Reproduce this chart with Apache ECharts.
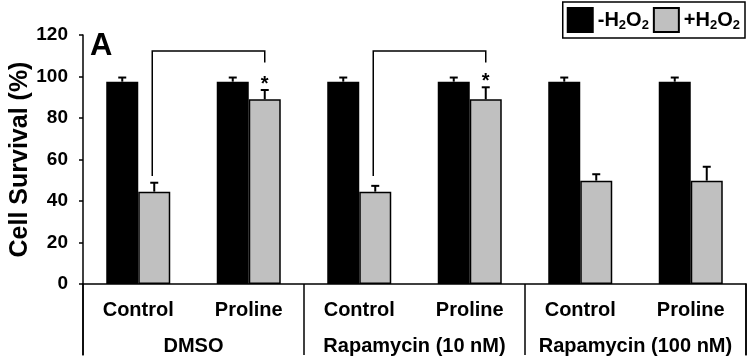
<!DOCTYPE html>
<html>
<head>
<meta charset="utf-8">
<script src="https://cdn.jsdelivr.net/npm/echarts@6/dist/echarts.min.js"></script>
<style>
  html, body { margin: 0; padding: 0; background: #fff; }
  #chart { width: 753px; height: 364px; }
</style>
</head>
<body>
<div id="chart"></div>
<script>
// data
var conditions = ['Control', 'Proline', 'Control', 'Proline', 'Control', 'Proline'];
var groups = ['DMSO', 'Rapamycin (10 nM)', 'Rapamycin (100 nM)'];
var noH2O2 = [97.5, 97.5, 97.5, 97.5, 97.5, 97.5];
var noH2O2Err = [2, 2, 2, 2, 2, 2];
var withH2O2 = [44.5, 89, 44.5, 89, 49.8, 49.8];
var withH2O2Err = [4.3, 4.5, 2.8, 5.8, 3.1, 6.7];
var stars = ['', '*', '', '*', '', ''];
// brackets: from gray bar -> to gray bar
var bracketFrom = [0, 2];
var bracketTo = [1, 3];
var bracketTop = 112.3;
var bracketLeftFoot = 52;
var bracketRightFoot = 106.7;

var FONT = 'Liberation Sans, Arial, sans-serif';
var BAR_W = 32;

var chartDom = document.getElementById('chart');
var myChart = echarts.init(chartDom);

function errRender(offset, vals, errs) {
    return function (params, api) {
        var i = params.dataIndex;
        var top = api.coord([i, vals[i] + errs[i]]);
        var base = api.coord([i, vals[i]]);
        var x = top[0] + offset;
        var children = [
            { type: 'line', shape: { x1: x, y1: base[1], x2: x, y2: top[1] }, style: { stroke: '#000', lineWidth: 2 } },
            { type: 'line', shape: { x1: x - 4, y1: top[1], x2: x + 4, y2: top[1] }, style: { stroke: '#000', lineWidth: 2 } }
        ];
        if (offset > 0 && stars[i]) {
            children.push({
                type: 'text',
                style: { text: stars[i], x: x, y: top[1] - 6, align: 'center', verticalAlign: 'middle', font: 'bold 20px ' + FONT, fill: '#000' }
            });
        }
        return { type: 'group', children: children };
    };
}

var sepLine = { color: '#000', width: 1.5 };

var option = {
    animation: false,
    title: {
        text: 'A', left: 85, top: 26,
        textStyle: { fontFamily: FONT, fontWeight: 'bold', fontSize: 31, color: '#000' }
    },
    legend: {
        data: ['-H2O2', '+H2O2'],
        right: 8, top: 2,
        borderColor: '#000', borderWidth: 1.5,
        padding: [5, 5, 5, 4],
        itemWidth: 25, itemHeight: 24, itemGap: 4,
        icon: 'rect',
        formatter: function (name) {
            return name.charAt(0) + 'H{s|2}O{s|2}';
        },
        textStyle: {
            fontFamily: FONT, fontWeight: 'bold', fontSize: 20, color: '#000',
            rich: { s: { fontFamily: FONT, fontWeight: 'bold', fontSize: 13, color: '#000', padding: [11, 0, 0, 0] } }
        }
    },
    grid: [
        { left: 83, right: 7, top: 35, bottom: 80, outerBoundsMode: 'none', containLabel: false },
        // strip under the plot holding the group separator lines
        { left: 83, right: 7, top: 284, bottom: 9, outerBoundsMode: 'none', containLabel: false }
    ],
    xAxis: [{
        type: 'category',
        data: conditions,
        axisLine: { lineStyle: { color: '#000', width: 1.5 } },
        axisTick: { show: false },
        axisLabel: { interval: 0, margin: 16, fontFamily: FONT, fontWeight: 'bold', fontSize: 20, color: '#000' },
        z: 3
    }, {
        type: 'category',
        data: groups,
        position: 'bottom',
        axisLine: { show: false },
        axisTick: { show: false },
        axisLabel: { interval: 0, margin: 52, fontFamily: FONT, fontWeight: 'bold', fontSize: 20, color: '#000' }
    }, {
        type: 'value',
        gridIndex: 1,
        min: 0, max: groups.length, interval: 1,
        axisLine: { show: false },
        axisTick: { show: false },
        axisLabel: { show: false },
        splitLine: { show: true, lineStyle: sepLine }
    }],
    yAxis: [{
        type: 'value',
        min: 0, max: 120, interval: 20,
        name: 'Cell Survival (%)',
        nameLocation: 'middle',
        nameGap: 50,
        nameMoveOverlap: false,
        nameTextStyle: { fontFamily: FONT, fontWeight: 'bold', fontSize: 25, color: '#000' },
        axisLine: { show: true, lineStyle: { color: '#000', width: 1.5 } },
        axisTick: { show: true, length: 4, lineStyle: { color: '#000', width: 1.5 } },
        axisLabel: { margin: 15, fontFamily: FONT, fontWeight: 'bold', fontSize: 19, color: '#000' },
        splitLine: { show: false }
    }, {
        type: 'value', gridIndex: 1, position: 'left',
        axisLine: { show: true, lineStyle: sepLine },
        axisTick: { show: false }, axisLabel: { show: false }, splitLine: { show: false }
    }, {
        type: 'value', gridIndex: 1, position: 'right',
        axisLine: { show: true, lineStyle: sepLine },
        axisTick: { show: false }, axisLabel: { show: false }, splitLine: { show: false }
    }],
    series: [
        {
            name: '-H2O2', type: 'bar', data: noH2O2,
            barWidth: BAR_W, barGap: '0%',
            itemStyle: { color: '#000', borderColor: '#000', borderWidth: 1.5 }
        },
        {
            name: '+H2O2', type: 'bar', data: withH2O2,
            barWidth: BAR_W, barGap: '0%',
            itemStyle: { color: '#c0c0c0', borderColor: '#000', borderWidth: 1.5 }
        },
        {
            type: 'custom', data: noH2O2.map(function (v, i) { return [i, v]; }),
            renderItem: errRender(-BAR_W / 2, noH2O2, noH2O2Err), z: 5
        },
        {
            type: 'custom', data: withH2O2.map(function (v, i) { return [i, v]; }),
            renderItem: errRender(BAR_W / 2, withH2O2, withH2O2Err), z: 5
        },
        {
            type: 'custom',
            data: bracketFrom.map(function (f, k) { return [f, bracketTo[k]]; }),
            z: 5,
            renderItem: function (params, api) {
                var k = params.dataIndex;
                var a = api.coord([bracketFrom[k], bracketLeftFoot]);
                var t = api.coord([bracketFrom[k], bracketTop]);
                var b = api.coord([bracketTo[k], bracketRightFoot]);
                var xa = a[0] + BAR_W / 2 - 2, xb = b[0] + BAR_W / 2;
                return {
                    type: 'polyline',
                    shape: { points: [[xa, a[1]], [xa, t[1]], [xb, t[1]], [xb, b[1]]] },
                    style: { stroke: '#000', lineWidth: 1.5, fill: null }
                };
            }
        }
    ]
};

option && myChart.setOption(option);
</script>
</body>
</html>
